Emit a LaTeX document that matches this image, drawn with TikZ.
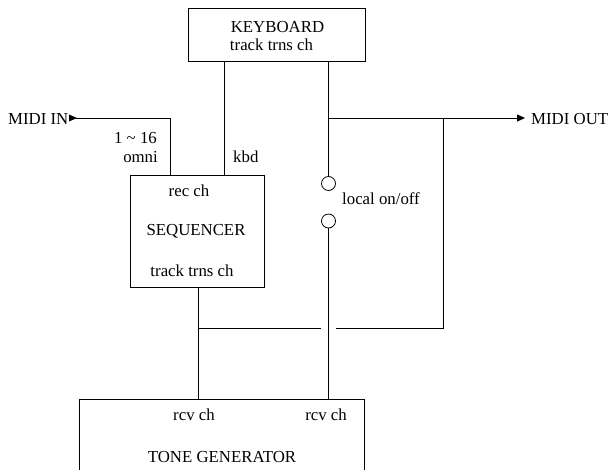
\documentclass[tikz,border=0pt]{standalone}
\usepackage{fontspec}
\setmainfont{Liberation Serif}
\usetikzlibrary{arrows.meta}
\begin{document}
\begin{tikzpicture}[x=1pt,y=-1pt,
  box/.style={draw,line width=0.8pt,inner sep=0pt,anchor=north west},
  lbl/.style={inner sep=0pt,font=\fontsize{16.8}{19}\selectfont},
  wire/.style={line width=0.8pt},
  sw/.style={draw,circle,line width=0.8pt,inner sep=0pt,minimum size=14pt},
  tip/.style={-{Triangle[length=8pt,width=7pt]}}]
\useasboundingbox (0,0) rectangle (612,469);
\clip (0,0) rectangle (612,469);
% boxes
\node[box,minimum width=176.7pt,minimum height=52.7pt] (kb) at (188.3,8.3) {};
\node[box,minimum width=134pt,minimum height=112pt] (seq) at (130.3,175) {};
\node[box,minimum width=284.7pt,minimum height=120pt] (tg) at (79.3,399.3) {};
% box texts
\node[lbl] (kbt) at (277.5,27) {KEYBOARD};
\node[lbl] (kbt2) at (271.5,45) {track trns ch};
\node[lbl] (seq1) at (189,191) {rec ch};
\node[lbl] (seq2) at (196,231) {SEQUENCER};
\node[lbl] (seq3) at (192,271) {track trns ch};
\node[lbl] (tg1) at (194,415) {rcv ch};
\node[lbl] (tg2) at (326,415) {rcv ch};
\node[lbl] (tg3) at (222,457) {TONE GENERATOR};
% other labels
\node[lbl,anchor=east] (midiin) at (68.5,119) {MIDI IN};
\node[lbl,anchor=west] (midiout) at (531,119) {MIDI OUT};
\node[lbl,anchor=east] (ch1) at (157,138) {1 \textasciitilde{} 16};
\node[lbl,anchor=east] (ch2) at (158,157) {omni};
\node[lbl,anchor=west] (kbd) at (233,157) {kbd};
\node[lbl,anchor=west] (local) at (342,199) {local on/off};
% switch circles
\node[sw] (sw1) at (328.5,183.5) {};
\node[sw] (sw2) at (328.5,221) {};
% coordinates
\coordinate (xa) at (224.3,0);
\coordinate (xb) at (328.5,0);
\coordinate (xin) at (170.3,0);
\coordinate (xs) at (198.3,0);
\coordinate (xr) at (443,0);
\coordinate (ymid) at (0,118);
\coordinate (ybus) at (0,328);
\coordinate (gapL) at (321,328);
\coordinate (gapR) at (336,328);
\coordinate (inA) at (69,118);
\coordinate (outA) at (525,118);
% wires
\draw[wire] (kb.south -| xa) -- (seq.north -| xa);
\draw[wire] (kb.south -| xb) -- (sw1.north);
\draw[wire] (sw2.south) -- (tg.north -| xb);
\draw[wire] (seq.south -| xs) -- (tg.north -| xs);
\draw[wire] (ybus -| xs) -- (gapL);
\draw[wire] (gapR) -- (ybus -| xr) -- (ymid -| xr);
\draw[wire,tip] (ymid -| xb) -- (outA);
\draw[wire] (inA) ++(7,0) -- (ymid -| xin) -- (seq.north -| xin);
\fill (inA) ++(0,-3.5) -- ++(8,3.5) -- ++(-8,3.5) -- cycle;
\end{tikzpicture}
\end{document}
